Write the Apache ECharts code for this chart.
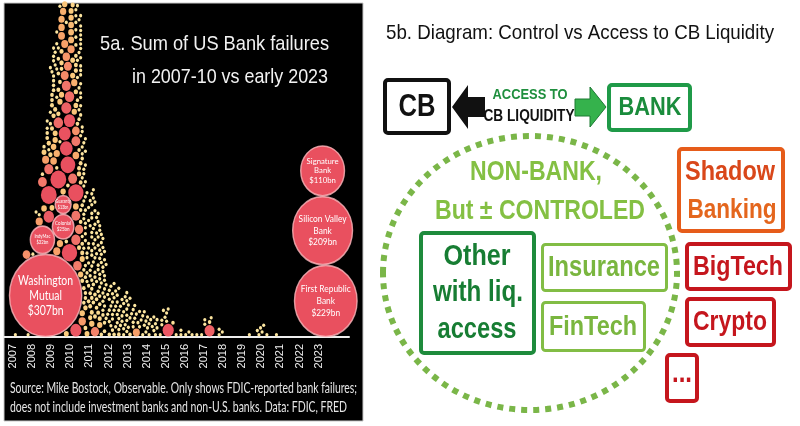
<!DOCTYPE html>
<html><head><meta charset="utf-8">
<script src="https://cdn.jsdelivr.net/npm/echarts@6/dist/echarts.min.js"></script>
<style>html,body{margin:0;padding:0;background:#fff}#c{width:800px;height:426px}</style>
</head><body><div id="c"></div>
<script>
// ---------- DATA: FDIC bank failures, total assets ($bn), listed per month (Jan..Dec) ----------
const yearLabels = [2007,2008,2009,2010,2011,2012,2013,2014,2015,2016,2017,2018,2019,2020,2021,2022,2023];
const fail2007 = [[],[0.03],[],[],[],[],[],[],[2.5],[0.09],[],[]];
const fail2008 = [[0.06],[],[0.02],[],[2.1,0.05],[],[3.4,0.25],[0.26,0.75,1.1],[2.0],[0.1,0.04,0.35,0.29],[5.1,0.56,12.8,3.7,0.1],[0.57,0.04,0.24,0.09]];
const fail2009 = [
 [0.43,0.45,0.8,0.34,0.22,0.36],
 [0.13,0.54,0.27,0.07,0.13,0.30,0.23,1.7,1.1,0.24],
 [0.8,0.12,0.96,0.49,0.15],
 [0.18,2.0,1.5,0.18,0.11,0.27,0.09],
 [4.1,0.05,0.3,0.33,12.8,0.54,0.44,0.16],
 [0.97,0.16,0.38,0.21,0.2,0.22,0.08,1.5,0.13],
 [1.5,1.9,0.25,0.12,0.96,0.12,0.06,0.1,0.08,0.42,0.27,0.6,0.22,0.1,0.35,0.12,0.5,0.1,0.19,1.6,0.17,0.16,0.3,0.11],
 [0.21,0.15,0.12,0.01,0.46,1.5,0.16,0.6,0.19,0.14,1.0,0.46,0.45,0.25],
 [0.2,0.46,0.33,7.0,0.12,0.11,2.7,0.5,2.0,0.97,0.54],
 [0.78,0.04,0.06,0.1,0.27,0.11,0.3,0.13,0.57,0.3,0.39,7.8,3.6,2.3,4.7,0.8,0.2,0.18,0.2,0.12],
 [0.2,0.9,0.16,0.1,2.7,0.13,0.73,0.1,11.0,0.17,0.2,0.3],
 [12.0,6.1,4.0,0.05,0.12,0.25,0.43,0.56,0.1,0.2,0.11,0.23]];
const fail2010 = [
 [1.3,0.83,0.06,0.07,1.0,0.14,2.1,1.2,0.13,0.03,0.35,1.2,0.49,0.23,0.2],
 [3.6,0.41,0.05,0.06,0.87,0.08,0.2,0.2,0.54,0.3,0.12,0.7,0.15],
 [0.16,0.1,1.0,1.5,0.1,0.06,0.24,0.15,0.07,0.32,0.21,0.4,0.13,0.2,0.11,0.14],
 [11.9,5.9,2.5,3.4,3.5,1.7,3.8,0.03,0.44,1.2,0.1,0.08,0.05,0.59,0.7,0.16,0.2,0.5,0.28,0.35,0.12,0.18,0.09],
 [3.2,0.07,0.34,0.03,0.24,0.06,0.1,0.08,0.15,0.2],
 [0.48,0.41,3.0,0.64,0.25,0.13,0.18,0.28,0.06,0.2],
 [0.06,0.19,0.1,0.12,0.17,0.35,0.2,1.0,0.4,0.3,0.07,0.15,0.12,0.18,0.22,0.1,0.4,0.14,0.2,0.25,0.16,0.12],
 [0.45,0.09,0.87,1.0,0.3,0.34,2.2,0.18,0.12,0.2,0.15,0.13,0.4,0.27],
 [0.15,0.2,0.12,0.1,0.07,0.33,0.25,0.18,0.14,0.11,0.3],
 [0.07,0.2,0.13,0.11,0.4,0.29,0.1,0.17,0.62,0.16,0.14,0.21,0.3,0.12,0.09,0.25],
 [0.22,0.1,0.17,0.8,0.11,0.2],
 [0.11,0.18,0.12,0.25,0.13,0.16,0.33]];
const fail2011 = [
 [0.4,0.23,0.1,0.12,0.2,0.55,0.3],
 [0.25,0.12,0.2,0.15,0.11,1.0,0.09,0.31,0.18,0.17,0.12,0.45,0.27,0.14],
 [0.2,0.13,0.1,0.26,0.09,0.3,0.16],
 [3.0,0.12,0.25,0.19,0.16,0.3,0.11,0.22,0.1,0.17,0.4],
 [0.15,0.2,0.12,0.3,0.1,0.35],
 [0.2,0.13,0.17,0.11,0.25,0.09,0.4,0.14],
 [0.5,0.3,0.12,1.0,0.2,0.17,0.1,0.13,0.22,0.15,0.26],
 [0.14,0.2,0.11,0.3,0.16,0.13],
 [0.18,0.27,0.12,0.1,0.2,0.15,0.22,0.09],
 [0.14,0.22,0.11,0.3,0.16,0.1,0.2,0.13,0.27],
 [0.12,0.2,0.15],
 [0.1,0.18]];
const fail2012 = [[0.2,0.12,0.3,0.1,0.16],[0.14,0.22,0.1],[0.18,0.11,0.25,0.13,0.2],[0.12,0.3,0.17,0.1],[0.15,0.2,0.11],[0.13,0.2,0.1,0.16],[0.22,0.13,0.1,0.35,0.17],[0.12,0.2],[0.17,0.1,0.14],[0.2,0.11,0.15,0.12],[0.1,0.18],[0.14,0.2,0.11,0.16,0.12,0.1]];
const fail2013 = [[0.12,0.2],[0.15,0.1,0.3],[0.13],[0.2,0.11,0.17],[0.1,0.14],[2.0,0.12],[0.16],[0.1,0.22],[0.13],[0.11,0.2],[0.15,0.1],[0.12,0.18]];
const fail2014 = [[0.16,0.1],[0.2,0.12],[0.11],[0.14],[0.1,0.17],[0.13,0.2],[0.12,0.1],[],[0.15],[0.11,0.18],[0.1],[0.13]];
const fail2015 = [[0.2,0.13],[5.9,0.1],[],[],[0.3],[],[0.15],[],[],[0.12,0.1],[],[]];
const fail2016 = [[0.13],[],[0.1],[],[0.2],[],[],[0.12],[],[],[0.1],[]];
const fail2017 = [[0.12,0.1],[],[],[4.7,0.3],[0.1],[],[],[],[],[0.13,0.1],[],[0.11]];
const fail2019 = [[],[],[],[],[0.15],[],[],[],[],[0.1],[0.12],[0.1]];
const fail2020 = [[0.1],[0.08],[],[0.1],[],[],[],[],[],[0.12],[],[]];
// labelled failures: [label, year, month, assets $bn]
const namedBanks = [
 ['Washington\nMutual\n$307bn', 2008, 9, 307],
 ['IndyMac\n$32bn', 2008, 7, 32],
 ['Colonial\n$25bn', 2009, 8, 25],
 ['Guaranty\n$13bn', 2009, 8, 13],
 ['Signature\nBank\n$110bn', 2023, 3, 110],
 ['Silicon Valley\nBank\n$209bn', 2023, 3, 209],
 ['First Republic\nBank\n$229bn', 2023, 5, 229]];
const failuresByYear = [[2007,fail2007],[2008,fail2008],[2009,fail2009],[2010,fail2010],[2011,fail2011],[2012,fail2012],[2013,fail2013],[2014,fail2014],[2015,fail2015],[2016,fail2016],[2017,fail2017],[2019,fail2019],[2020,fail2020]];

// ---------- LAYOUT ----------
const SANS = "'Liberation Sans',Arial,sans-serif";
const SQ = 0.88, PAD = 0.9;
const sizeOf = a => Math.max(3.6, 1.5 + 4.6*Math.sqrt(a));
const X_MIN = 2006.53, X_MAX = 2024.59;
const GRID = {left:4, right:451, top:4, bottom:89};
const GW = 800-GRID.left-GRID.right, GH = 426-GRID.top-GRID.bottom;
const pxPerYear = GW/(X_MAX-X_MIN);
// label text: [font size, line height, width of widest line]
const labelStyle = {
 'Washington\nMutual\n$307bn':[13,15,55], 'IndyMac\n$32bn':[5,6,16], 'Colonial\n$25bn':[5,6,16], 'Guaranty\n$13bn':[5,6,15],
 'Signature\nBank\n$110bn':[8,9.5,32], 'Silicon Valley\nBank\n$209bn':[10,11.5,48], 'First Republic\nBank\n$229bn':[10,12,50]};

const items = [];
failuresByYear.forEach(([yr, months]) => months.forEach((list, m) => list.forEach(a => items.push({t: yr+(m+0.5)/12, a}))));
namedBanks.forEach(([label, yr, m, a]) => items.push({t: yr+(m-0.5)/12, a, label}));
items.forEach(it => { it.d = sizeOf(it.a); it.r = it.d/2; it.x = (it.t-X_MIN)*pxPerYear/SQ; });
items.sort((p,q) => q.a-p.a || p.t-q.t);
const placed = [];
for (const c of items) {
  const cands = [c.r], near = [];
  for (const p of placed) {
    const dx = Math.abs(c.x-p.x), R = c.r+p.r+PAD;
    if (dx < R) { near.push(p); const h = Math.sqrt(R*R-dx*dx); cands.push(p.y+h); if (p.y-h >= c.r) cands.push(p.y-h); }
  }
  cands.sort((a,b)=>a-b);
  let yy = null;
  for (const cy of cands) {
    if (cy < c.r) continue;
    let ok = true;
    for (const p of near) { const dx=c.x-p.x, dy=cy-p.y, R=c.r+p.r+PAD-1e-6; if (dx*dx+dy*dy < R*R) { ok=false; break; } }
    if (ok) { yy = cy; break; }
  }
  c.y = yy; placed.push(c);
}
const bubbleData = placed.map(c => {
  const o = {value:[c.t, c.y+0.5, c.d]};
  if (c.label) o.itemStyle = {borderColor:'rgba(255,185,190,0.8)', borderWidth:1.5};
  return o;
});

// text fitting helper (scale a font horizontally to the measured width)
const mctx = document.createElement('canvas').getContext('2d');
function fitScale(text, font, target){ mctx.font = font; const w = Math.max(...text.split('\n').map(s=>mctx.measureText(s).width)); return target/w; }

function T(text, x, y, size, color, width, opts={}) {
  const weight = opts.weight || 'bold', family = opts.family || SANS, align = opts.align || 'center';
  const font = `${weight} ${size}px ${family}`;
  const sx = fitScale(text, font, width);
  return {type:'text', z:20, x, y, scaleX:sx, silent:true,
    style:{text, x:0, y:0, font, fill:color, align, verticalAlign:'middle', lineHeight:opts.lineHeight}};
}
function box(x, y, w, h, color, lw) {
  return {type:'rect', z:15, shape:{x, y, width:w, height:h, r:3}, style:{fill:'#fff', stroke:color, lineWidth:lw}};
}
const DG = '#177d33', LG = '#82bd45', LGT = '#7ab63f', RED = '#c5161d';
const GEO = "Lato,'Open Sans',sans-serif";

const graphics = [
  {type:'rect', z:-5, silent:true, shape:{x:4, y:3, width:359, height:418}, style:{fill:'#000', stroke:'#c8c8c8', lineWidth:1}},
  T('5a. Sum of US Bank failures', 329, 44, 21, '#f2f2f2', 229, {align:'right', weight:'normal'}),
  T('in 2007-10 vs early 2023', 328, 77, 21, '#f2f2f2', 196, {align:'right', weight:'normal'}),
  T('Source: Mike Bostock, Observable. Only shows FDIC-reported bank failures;', 10, 388, 15, '#e6e6e6', 347, {align:'left', weight:'normal', family:GEO}),
  T('does not include investment banks and non-U.S. banks. Data: FDIC, FRED', 10, 407, 15, '#e6e6e6', 337, {align:'left', weight:'normal', family:GEO}),
  // right diagram
  T('5b. Diagram: Control vs Access to CB Liquidity', 386, 33, 21, '#111', 388, {align:'left', weight:'normal'}),
  {type:'ellipse', z:12, shape:{cx:530, cy:273, rx:147, ry:137}, style:{fill:null, stroke:'#7ab648', lineWidth:6, lineDash:[6,6]}},
  box(385, 80, 64, 53, '#111', 4),
  T('CB', 417, 107, 32, '#111', 37),
  {type:'polygon', z:15, shape:{points:[[452,107],[468,85],[468,97],[485,97],[485,117],[468,117],[468,129]]}, style:{fill:'#111'}},
  {type:'polygon', z:15, shape:{points:[[575,99],[590,99],[590,87],[606,107],[590,127],[590,116],[575,116]]}, style:{fill:'#35b24c', stroke:'#1c7a33', lineWidth:1}},
  T('ACCESS TO', 530, 95, 15, '#1f8f3e', 75),
  T('CB LIQUIDITY', 529, 117, 16, '#111', 91),
  box(609, 85, 81, 45, '#1f9a48', 4),
  T('BANK', 650, 108, 26, '#1a8c3c', 63),
  T('NON-BANK,', 536, 172, 28, '#84c043', 132),
  T('But \u00b1 CONTROLED', 540, 211, 28, '#84c043', 210),
  box(421, 233, 113, 120, '#1e8b3c', 4),
  T('Other', 477, 257, 29, DG, 67),
  T('with liq.', 478, 293, 29, DG, 90),
  T('access', 477, 330, 29, DG, 79),
  box(542.5, 244.5, 124, 46, LG, 3),
  T('Insurance', 604, 268, 29, LGT, 112),
  box(542.5, 302.5, 102, 48, LG, 3),
  T('FinTech', 593, 327, 28, LGT, 88),
  box(679, 149, 104, 82, '#e65c1a', 4),
  T('Shadow', 730, 172, 28, '#d9471a', 90),
  T('Banking', 732, 210, 28, '#e4661d', 89),
  box(687, 244, 103, 45, RED, 4),
  T('BigTech', 738, 267, 28, RED, 90),
  box(687, 299, 87, 46, RED, 4),
  T('Crypto', 730, 322, 28, RED, 74),
  box(667, 355, 30, 46, RED, 4),
  T('...', 682, 374, 29, RED, 20)
];

const chart = echarts.init(document.getElementById('c'), null, {renderer:'canvas'});
const option = {
  animation:false,
  backgroundColor:'#fff',
  grid:{left:GRID.left, right:GRID.right, top:GRID.top, bottom:GRID.bottom},
  xAxis:{type:'value', min:X_MIN, max:X_MAX, splitLine:{show:false},
    axisLine:{show:true, lineStyle:{color:'#eeeeee', width:2}}, axisTick:{show:false},
    axisLabel:{customValues:yearLabels, rotate:90, color:'#f0f0f0', fontSize:11, margin:7, fontFamily:SANS, formatter:v=>String(v)}},
  yAxis:{type:'value', min:0, max:GH, show:false},
  visualMap:{show:false, type:'continuous', dimension:2, min:3.6, max:14, seriesIndex:0,
    inRange:{color:['#fde6a0','#fbcb7c','#f8a468','#f27a6a','#ec5a64','#e9505f']}},
  series:[{type:'scatter', data:bubbleData, clip:true,
    symbolSize:v=>[v[2]*SQ, v[2]], itemStyle:{opacity:1}}],
  graphic:graphics
};
chart.setOption(option);
// bubble labels placed at the bubbles' positions through the axes
placed.filter(c => c.label).forEach(c => {
  const [fs, lh, w] = labelStyle[c.label];
  const [px, py] = chart.convertToPixel({gridIndex:0}, [c.t, c.y+0.5]);
  graphics.push(T(c.label, px, py, fs, '#fff', w, {weight:'normal', family:GEO, lineHeight:lh}));
});
chart.setOption({graphic:graphics});
</script></body></html>
